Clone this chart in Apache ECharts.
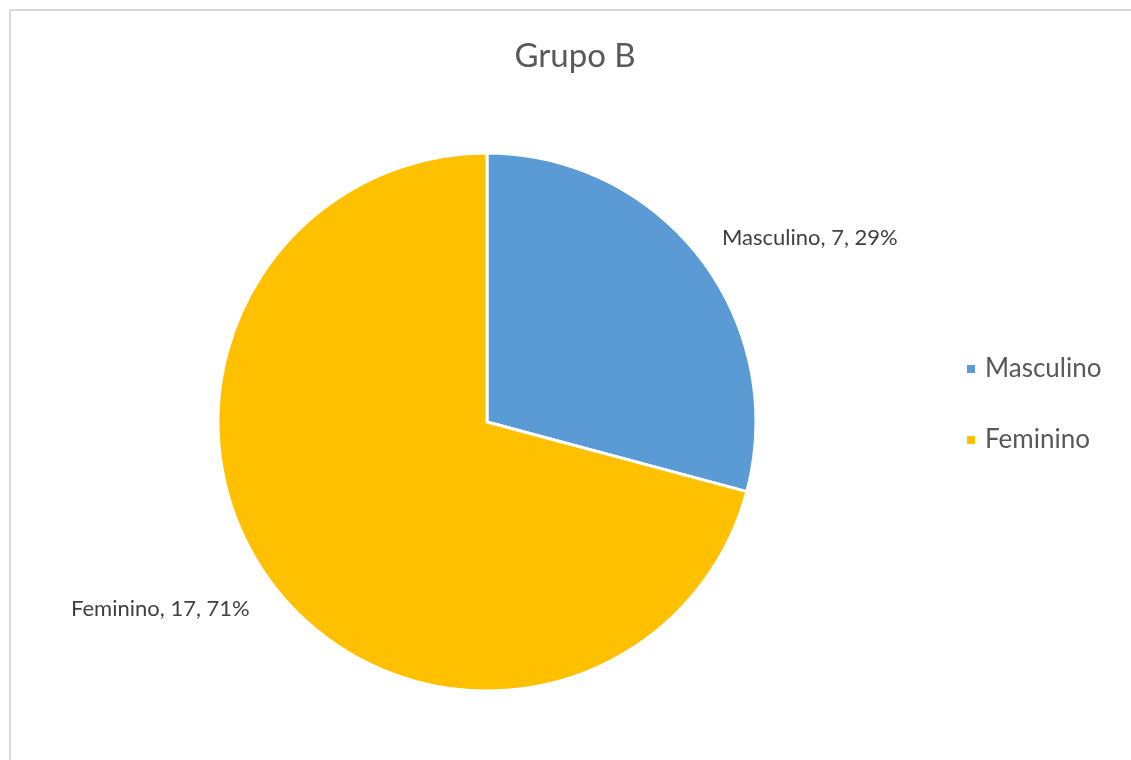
<!DOCTYPE html>
<html>
<head>
<meta charset="utf-8">
<script src="https://cdn.jsdelivr.net/npm/echarts@6/dist/echarts.min.js"></script>
<style>
  html, body { margin: 0; padding: 0; background: #fff; }
  #grupo-b-chart { width: 1131px; height: 760px; }
</style>
</head>
<body>
<div id="grupo-b-chart"></div>
<script>
// dados do gráfico
const categories = ['Masculino', 'Feminino'];
const values = [7, 17];
const colors = ['#5B9BD5', '#FFC000'];
// posição dos rótulos (estilo Excel)
const labelSpots = [[722, 238, 'left'], [71, 609, 'left']];

const myChart = echarts.init(document.getElementById('grupo-b-chart'));

const option = {
  color: colors,
  textStyle: { fontFamily: 'Lato' },
  title: {
    text: 'Grupo B',
    left: 570,
    top: 35,
    textAlign: 'center',
    textStyle: {
      fontFamily: 'Lato',
      fontSize: 33,
      fontWeight: 'normal',
      color: '#595959'
    }
  },
  legend: {
    orient: 'vertical',
    left: 960,
    top: 351,
    itemWidth: 10,
    itemHeight: 10,
    itemGap: 45,
    icon: 'rect',
    data: categories,
    textStyle: {
      fontFamily: 'Lato',
      fontSize: 26,
      color: '#595959',
      padding: [0, 0, 0, 4]
    }
  },
  graphic: [
    { type: 'line', shape: { x1: 10, y1: 10, x2: 1131, y2: 10 }, style: { stroke: '#d9d9d9', lineWidth: 2 } },
    { type: 'line', shape: { x1: 10, y1: 10, x2: 10, y2: 760 }, style: { stroke: '#d9d9d9', lineWidth: 2 } }
  ],
  series: [
    {
      type: 'pie',
      center: [487, 422],
      radius: 269,
      startAngle: 90,
      clockwise: true,
      silent: true,
      itemStyle: { borderColor: '#fff', borderWidth: 3 },
      label: {
        show: true,
        position: 'outside',
        fontFamily: 'Lato',
        fontSize: 22,
        color: '#404040',
        formatter: (p) => p.name + ', ' + p.value + ', ' + Math.round(p.percent) + '%'
      },
      labelLine: { show: false },
      labelLayout: (params) => {
        const s = labelSpots[params.dataIndex];
        return { x: s[0], y: s[1], align: s[2], verticalAlign: 'middle' };
      },
      data: categories.map((name, i) => ({ name: name, value: values[i] }))
    }
  ]
};

myChart.setOption(option);
</script>
</body>
</html>
